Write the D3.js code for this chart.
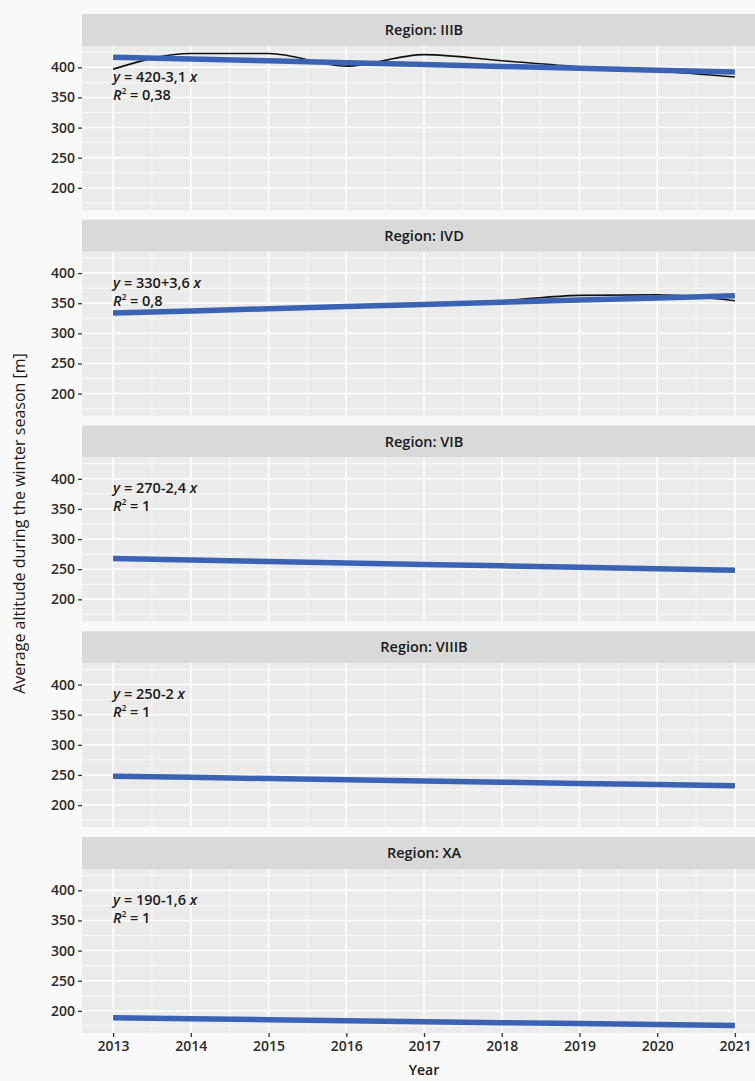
<!DOCTYPE html>
<html>
<head>
<meta charset="utf-8">
<script src="https://cdn.jsdelivr.net/npm/d3@7"></script>
<style>
  body { margin: 0; background: #f9f9f9; }
  svg { display: block; font-family: "Open Sans", sans-serif; }
</style>
</head>
<body>
<div class="container"></div>
<script>
const width = 755, height = 1081;

// data
const regions = ["IIIB", "IVD", "VIB", "VIIIB", "XA"];
const years = [2013, 2014, 2015, 2016, 2017, 2018, 2019, 2020, 2021];
const altIIIB = [397, 423, 423, 402, 421, 411, 401, 394, 384];
const altIVD = [334, 337, 341, 344, 348, 354, 363, 364, 354];
const altVIB = [268, 265, 263, 260, 258, 256, 253, 251, 248];
const altVIIIB = [248, 246, 244, 242, 240, 238, 236, 234, 232];
const altXA = [188, 187, 185, 184, 182, 180, 179, 177, 176];
const intercepts = [420, 330, 270, 250, 190];
const slopes = [-3.1, 3.6, -2.4, -2, -1.6];
const r2Labels = ["0,38", "0,8", "1", "1", "1"];
const yTicks = [200, 250, 300, 350, 400];

const series = [altIIIB, altIVD, altVIB, altVIIIB, altXA];

// layout
const plotLeft = 82, plotRight = 766;
const top0 = 14, stripH = 32, plotH = 164, gap = 9.75;
const blue = "#3b63b3";

const svg = d3.select(".container")
    .append("svg")
    .attr("width", width)
    .attr("height", height);

svg.append("rect").attr("width", width).attr("height", height).attr("fill", "#f9f9f9");

// x scale with ggplot-like 5% expansion
const xExt = d3.extent(years);
const xPad = (xExt[1] - xExt[0]) * 0.05;
const x = d3.scaleLinear().domain([xExt[0] - xPad, xExt[1] + xPad]).range([plotLeft, plotRight]);

// shared y domain from data and fitted lines
const allVals = [];
series.forEach((s, i) => {
    s.forEach(v => allVals.push(v));
    years.forEach((yr, j) => allVals.push(intercepts[i] + slopes[i] * (j + 1)));
});
const yExt = d3.extent(allVals);
const yPad = (yExt[1] - yExt[0]) * 0.05;
const yDomain = [yExt[0] - yPad, yExt[1] + yPad];

const fmt = v => String(v).replace(".", ",");

const xMinor = d3.range(years.length - 1).map(i => years[i] + 0.5);
const yMinor = [175, 225, 275, 325, 375, 425];

regions.forEach((reg, i) => {
    const stripTop = top0 + i * (stripH + plotH + gap);
    const pTop = stripTop + stripH;
    const y = d3.scaleLinear().domain(yDomain).range([pTop + plotH, pTop]);

    const g = svg.append("g");

    // strip
    g.append("rect")
        .attr("x", plotLeft).attr("y", stripTop)
        .attr("width", plotRight - plotLeft).attr("height", stripH)
        .attr("fill", "#d9d9d9");
    g.append("text")
        .attr("x", (plotLeft + plotRight) / 2)
        .attr("y", stripTop + stripH / 2 + 5)
        .attr("text-anchor", "middle")
        .attr("font-size", 14.5)
        .attr("font-weight", 600)
        .attr("fill", "#1a1a1a")
        .text("Region: " + reg);

    // panel
    g.append("rect")
        .attr("x", plotLeft).attr("y", pTop)
        .attr("width", plotRight - plotLeft).attr("height", plotH)
        .attr("fill", "#ebebeb");

    // minor grid
    g.selectAll(".ymin").data(yMinor.filter(v => v > yDomain[0] && v < yDomain[1])).enter()
        .append("line")
        .attr("x1", plotLeft).attr("x2", plotRight)
        .attr("y1", d => y(d)).attr("y2", d => y(d))
        .attr("stroke", "#fff").attr("stroke-width", 0.7);
    g.selectAll(".xmin").data(xMinor).enter()
        .append("line")
        .attr("x1", d => x(d)).attr("x2", d => x(d))
        .attr("y1", pTop).attr("y2", pTop + plotH)
        .attr("stroke", "#fff").attr("stroke-width", 0.7);
    // major grid
    g.selectAll(".ymaj").data(yTicks).enter()
        .append("line")
        .attr("x1", plotLeft).attr("x2", plotRight)
        .attr("y1", d => y(d)).attr("y2", d => y(d))
        .attr("stroke", "#fff").attr("stroke-width", 1.5);
    g.selectAll(".xmaj").data(years).enter()
        .append("line")
        .attr("x1", d => x(d)).attr("x2", d => x(d))
        .attr("y1", pTop).attr("y2", pTop + plotH)
        .attr("stroke", "#fff").attr("stroke-width", 1.5);

    // y axis
    const yAxis = g.append("g")
        .attr("transform", `translate(${plotLeft},0)`)
        .call(d3.axisLeft(y).tickValues(yTicks).tickSize(4).tickPadding(3));
    yAxis.select(".domain").remove();
    yAxis.selectAll(".tick line").attr("stroke", "#333").attr("stroke-width", 1.3);
    yAxis.selectAll(".tick text")
        .attr("font-family", "Open Sans, sans-serif")
        .attr("font-size", 14).attr("font-weight", 600).attr("fill", "#2b2b2b");

    // observed line
    const data = years.map((yr, j) => ({ yr, v: series[i][j] }));
    g.append("path")
        .datum(data)
        .attr("fill", "none")
        .attr("stroke", "#111")
        .attr("stroke-width", 1.6)
        .attr("d", d3.line().x(d => x(d.yr)).y(d => y(d.v)).curve(d3.curveMonotoneX));

    // regression line
    const fit = years.map((yr, j) => ({ yr, v: intercepts[i] + slopes[i] * (j + 1) }));
    g.append("path")
        .datum(fit)
        .attr("fill", "none")
        .attr("stroke", blue)
        .attr("stroke-width", 5.5)
        .attr("d", d3.line().x(d => x(d.yr)).y(d => y(d.v)));

    // equation label
    const ty = y(384) + 5;
    const eq = g.append("text")
        .attr("x", x(years[0]))
        .attr("y", ty)
        .attr("font-size", 14.5)
        .attr("font-weight", 600)
        .attr("fill", "#1a1a1a");
    eq.append("tspan").attr("font-style", "italic").text("y");
    eq.append("tspan").text(" = " + intercepts[i] + (slopes[i] < 0 ? "-" : "+") + fmt(Math.abs(slopes[i])) + " ");
    eq.append("tspan").attr("font-style", "italic").text("x");

    const r2 = g.append("text")
        .attr("x", x(years[0]))
        .attr("y", ty + 18)
        .attr("font-size", 14.5)
        .attr("font-weight", 600)
        .attr("fill", "#1a1a1a");
    r2.append("tspan").attr("font-style", "italic").text("R");
    r2.append("tspan").attr("font-size", 8).attr("dy", -6).text("2");
    r2.append("tspan").attr("dy", 6).text(" = " + r2Labels[i]);

    // x axis on the bottom panel only
    if (i === regions.length - 1) {
        const xAxis = g.append("g")
            .attr("transform", `translate(0,${pTop + plotH})`)
            .call(d3.axisBottom(x).tickValues(years).tickFormat(d3.format("d")).tickSize(4).tickPadding(4));
        xAxis.select(".domain").remove();
        xAxis.selectAll(".tick line").attr("stroke", "#333").attr("stroke-width", 1.3);
        xAxis.selectAll(".tick text")
            .attr("font-family", "Open Sans, sans-serif")
            .attr("font-size", 14).attr("font-weight", 600).attr("fill", "#2b2b2b");

        svg.append("text")
            .attr("x", (plotLeft + plotRight) / 2)
            .attr("y", pTop + plotH + 42)
            .attr("text-anchor", "middle")
            .attr("font-size", 14)
            .attr("font-weight", 600)
            .attr("fill", "#1a1a1a")
            .text("Year");
    }
});

// y axis title
const midY = (top0 + top0 + 5 * (stripH + plotH) + 4 * gap) / 2;
svg.append("text")
    .attr("transform", `translate(25,${midY}) rotate(-90)`)
    .attr("text-anchor", "middle")
    .attr("font-size", 16)
    .attr("font-weight", 500)
    .attr("fill", "#1a1a1a")
    .text("Average altitude during the winter season [m]");
</script>
</body>
</html>
